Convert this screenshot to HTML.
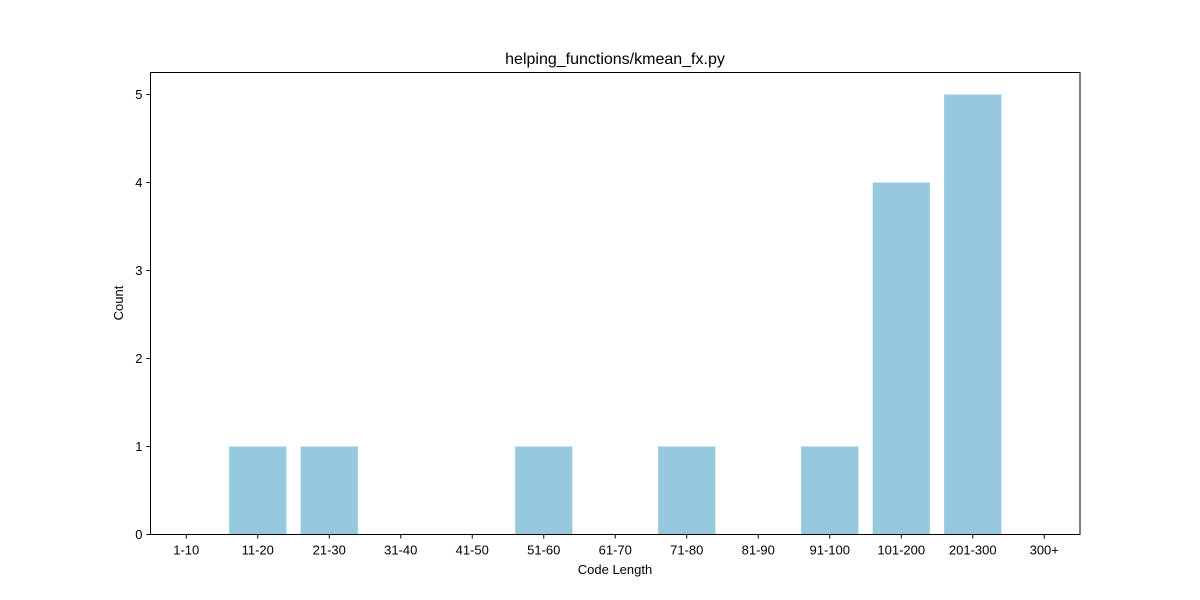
<!DOCTYPE html>
<html>
<head>
<meta charset="utf-8">
<style>
  html,body{margin:0;padding:0;background:#fff;}
  svg{display:block;font-family:"Liberation Sans","DejaVu Sans",sans-serif;}
</style>
</head>
<body>
<svg id="chart" width="1200" height="600" viewBox="0 0 1200 600">
  <rect x="0" y="0" width="1200" height="600" fill="#fff"/>
  <text x="615" y="64" text-anchor="middle" font-size="16" fill="#000">helping_functions/kmean_fx.py</text>
  <g id="bars"></g>
  <g id="xticks"></g>
  <g id="yticks"></g>
  <rect x="150.5" y="72.5" width="929.5" height="462" fill="none" stroke="#000" stroke-width="1"/>
  <text x="615" y="574" text-anchor="middle" font-size="13">Code Length</text>
  <text x="0" y="0" text-anchor="middle" font-size="13" transform="translate(123,303) rotate(-90)">Count</text>
</svg>
<script>
const categories = ["1-10","11-20","21-30","31-40","41-50","51-60","61-70","71-80","81-90","91-100","101-200","201-300","300+"];
const counts = [0,1,1,0,0,1,0,1,0,1,4,5,0];
const yTicks = [0,1,2,3,4,5];

const L=150.5, R=1080, T=72.5, B=534.5;
const xMin=-0.5, xMax=categories.length-0.5, yMin=0, yMax=5.25;
const xs = i => L + (i - xMin)/(xMax - xMin)*(R - L);
const ys = v => B - (v - yMin)/(yMax - yMin)*(B - T);
const NS="http://www.w3.org/2000/svg";
const bars=document.getElementById('bars'), xg=document.getElementById('xticks'), yg=document.getElementById('yticks');
const step=(R-L)/(xMax-xMin), bw=0.8*step;

categories.forEach((c,i)=>{
  const r=document.createElementNS(NS,'rect');
  r.setAttribute('x', xs(i)-bw/2);
  r.setAttribute('y', ys(counts[i]));
  r.setAttribute('width', bw);
  r.setAttribute('height', ys(0)-ys(counts[i]));
  r.setAttribute('fill', '#96c9dd');
  
  
  bars.appendChild(r);
  const t=document.createElementNS(NS,'line');
  t.setAttribute('x1', xs(i)); t.setAttribute('x2', xs(i));
  t.setAttribute('y1', B); t.setAttribute('y2', B+4);
  t.setAttribute('stroke', '#000');
  
  
  xg.appendChild(t);
  const tx=document.createElementNS(NS,'text');
  tx.setAttribute('x', xs(i)); tx.setAttribute('y', B+20);
  tx.setAttribute('text-anchor', 'middle'); tx.setAttribute('font-size', '13');
  tx.textContent=c;
  
  
  xg.appendChild(tx);
});
yTicks.forEach(v=>{
  const t=document.createElementNS(NS,'line');
  t.setAttribute('x1', L-4); t.setAttribute('x2', L);
  t.setAttribute('y1', ys(v)); t.setAttribute('y2', ys(v));
  t.setAttribute('stroke', '#000');
  
  
  yg.appendChild(t);
  const tx=document.createElementNS(NS,'text');
  tx.setAttribute('x', L-8); tx.setAttribute('y', ys(v)+4.5);
  tx.setAttribute('text-anchor', 'end'); tx.setAttribute('font-size', '13');
  tx.textContent=v;
  
  
  yg.appendChild(tx);
});
</script>
</body>
</html>
